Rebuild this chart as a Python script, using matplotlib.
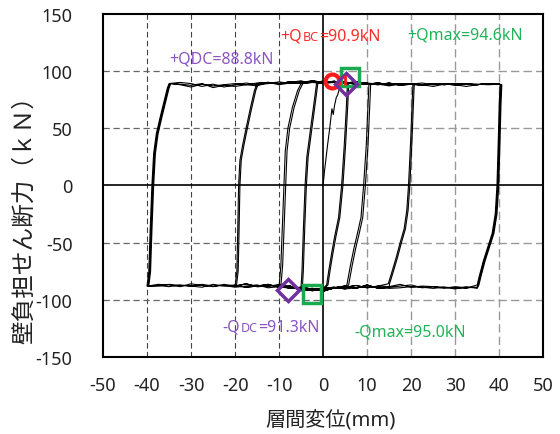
import matplotlib
matplotlib.use('Agg')
import matplotlib.pyplot as plt
from matplotlib.offsetbox import TextArea, HPacker, AnnotationBbox

plt.rcParams['font.family'] = ['Noto Sans', 'Noto Sans CJK JP', 'DejaVu Sans']
plt.rcParams['axes.unicode_minus'] = False

# plateau profiles (kN) read on a 2.5 mm grid
grid_x = [-40, -37.5, -35, -32.5, -30, -27.5, -25, -22.5, -20, -17.5, -15, -12.5,
          -10, -7.5, -5, -2.5, 0, 2.5, 5, 7.5, 10, 12.5, 15, 17.5, 20, 22.5, 25,
          27.5, 30, 32.5, 35, 37.5, 40]
top_a = [90, 90, 90.5, 88, 86, 88.5, 87, 88, 89, 88, 89.5, 90, 89, 90.5, 91, 90, 91,
         90.5, 90, 89.5, 88.5, 89.5, 88, 89, 88.5, 87.5, 89, 88, 89, 88.5, 88, 89, 89]
top_b = [89, 89, 89.5, 90, 89, 86.5, 88.5, 86, 88, 89.5, 88, 89, 90.5, 89, 90, 91.5, 90,
         91, 89.5, 90.5, 89, 88, 89.5, 87.5, 88.5, 89.5, 88, 89, 87.5, 89, 88.5, 88, 88.5]
top_c = [88, 88, 90, 88.5, 87.5, 89, 85.5, 87.5, 86.5, 88, 87, 90, 88, 89.5, 89, 90, 89.5,
         90, 90.5, 88, 89.5, 88.5, 87, 88.5, 89, 88, 86.5, 88.5, 88, 86.5, 88, 89, 88.5]
bot_a = [-88, -87.5, -88.5, -87, -88, -86.5, -88, -87.5, -89, -88, -87, -89.5, -88.5,
         -90, -89, -91, -90, -89, -90.5, -89.5, -88.5, -89, -90, -89.5, -88.5, -89, -90,
         -89, -89.5, -90, -90.5, -90, -90]
bot_b = [-87, -86.5, -87, -88.5, -86, -87.5, -88.5, -86.5, -88, -86, -88.5, -88, -87,
         -89, -90.5, -92, -91, -90, -89, -87.5, -89.5, -88, -88.5, -86.5, -89, -88,
         -88.5, -90, -88.5, -89.5, -89, -91, -90]
bot_c = [-88.5, -88, -86.5, -87.5, -88, -89, -86.5, -88, -87, -89, -88, -86.5, -89, -88,
         -92, -90, -92.5, -89.5, -88, -90, -87, -90, -89, -88, -87, -89.5, -88.5, -89,
         -90.5, -88.5, -90, -89.5, -91]
tops = [top_a, top_b, top_c]
bots = [bot_a, bot_b, bot_c]

# first loading
init_x = [0, 0.3, 0.6, 1.0, 1.5, 2.0, 2.3, 2.6, 3.0, 3.3, 3.8, 4.2, 5.0]
init_y = [0, 12, 22, 35, 50, 67, 62, 70, 77, 79, 86, 90, 91]

# unloading / reloading branches per amplitude (mm)
down5_x = [5.5, 5.3, 4.8, 4.2, 3.5, 2.6, 1.9, 1.3, 0.8]
down5_y = [88, 70, 35, 0, -28, -45, -60, -74, -87]
up5_x = [-5, -4.8, -4.5, -4.1, -3.7, -3.0, -2.3, -1.8, -1.5]
up5_y = [-88, -75, -40, 0, 25, 45, 65, 80, 89]
down10_x = [10.4, 10.2, 9.8, 9.2, 8.6, 7.8, 7.0, 6.2, 5.4]
down10_y = [88, 70, 35, 0, -28, -42, -55, -70, -87]
up10_x = [-10, -9.6, -9.2, -8.9, -8.6, -8.0, -7.0, -5.8, -5.0]
up10_y = [-88, -70, -30, 0, 30, 50, 68, 83, 89]
down20_x = [20.4, 20.2, 19.9, 19.4, 19.0, 18.4, 17.5, 16.6, 15.6, 14.8]
down20_y = [88, 70, 40, 0, -22, -38, -50, -63, -76, -86]
up20_x = [-20, -19.6, -19.4, -19.2, -18.9, -18.3, -17.5, -16.5, -15.6, -15.0]
up20_y = [-88, -75, -40, 0, 22, 35, 50, 68, 83, 89]
down40_x = [40.2, 40.0, 39.8, 39.5, 39.1, 38.4, 37.4, 36.4, 35.5, 35.0]
down40_y = [88, 70, 40, 0, -25, -42, -54, -66, -79, -87]
up40_x = [-40, -39.6, -39.3, -38.9, -38.5, -37.9, -37.0, -36.1, -35.4, -35.0]
up40_y = [-88, -75, -40, 0, 28, 45, 60, 74, 85, 89]

branches = {5: (down5_x, down5_y, up5_x, up5_y),
            10: (down10_x, down10_y, up10_x, up10_y),
            20: (down20_x, down20_y, up20_x, up20_y),
            40: (down40_x, down40_y, up40_x, up40_y)}

cyc_amp = [5, 5, 10, 10, 20, 20, 40, 40, 40]
cyc_top = [0, 1, 0, 2, 1, 0, 0, 1, 2]
cyc_bot = [0, 1, 2, 0, 1, 2, 0, 1, 2]
cyc_shift = [0, 0.3, 0, 0.4, 0, 0.3, 0, 0.2, 0.4]

# characteristic points
pk_x = [2.0, 6.0, 5.2, -8.0, -2.5]
pk_y = [90.9, 94.6, 88.8, -91.3, -95.0]
# label pieces: (main, small, rest)
pk_text = [('+Q', 'BC', '=90.9kN'), ('+Qmax=94.6kN', '', ''), ('+QDC=88.8kN', '', ''),
           ('-Q', 'DC', '=91.3kN'), ('-Qmax=95.0kN', '', '')]
pk_tx = [1.6, 32.3, -23, -11.9, 19.8]
pk_ty = [131, 131.6, 110.5, -123.7, -128]
pk_col = ['#ff2a2a', '#22b35a', '#8a55c0', '#8a55c0', '#22b35a']


def plateau(prof, x0, x1):
    pts = [(gx, gy) for gx, gy in zip(grid_x, prof) if min(x0, x1) < gx < max(x0, x1)]
    if x0 > x1:
        pts = pts[::-1]
    return pts


xs, ys = list(init_x), list(init_y)
for amp, ti, bi, s in zip(cyc_amp, cyc_top, cyc_bot, cyc_shift):
    dx, dy, ux, uy = branches[amp]
    dx = [v + s for v in dx]
    ux = [v + s for v in ux]
    for px, py in plateau(tops[ti], xs[-1], dx[0]):
        xs.append(px); ys.append(py)
    xs += dx; ys += dy
    for px, py in plateau(bots[bi], dx[-1], ux[0]):
        xs.append(px); ys.append(py)
    xs += ux; ys += uy
for px, py in plateau(tops[0], xs[-1], 40.2):
    xs.append(px); ys.append(py)

fig = plt.figure(figsize=(5.6, 4.35), dpi=100)
ax = fig.add_axes([0.184, 0.177, 0.786, 0.789])
ax.set_xlim(-50, 50)
ax.set_ylim(-150, 150)

# grid
for gx in [-40, -30, -20, -10]:
    ax.axvline(gx, color='#444444', lw=0.8, dashes=(5, 3), zorder=1)
for gx in [10, 20, 30, 40]:
    ax.axvline(gx, color='#999999', lw=1.0, dashes=(6, 3), zorder=1)
for gy in [-100, -50, 50, 100]:
    ax.plot([-50, 0], [gy, gy], color='#666666', lw=0.9, dashes=(5, 3), zorder=1)
    ax.plot([0, 50], [gy, gy], color='#999999', lw=1.0, dashes=(6, 3), zorder=1)
ax.axhline(0, color='black', lw=1.2, zorder=2)
ax.axvline(0, color='black', lw=1.2, zorder=2)

ax.plot(xs, ys, color='black', lw=0.8, zorder=3)

# markers
ax.plot(pk_x[1], pk_y[1], 's', mfc='none', mec='#1aaa50', ms=13, mew=2.5, zorder=5)
ax.plot(pk_x[0], pk_y[0], 'o', mfc='none', mec='#ff1a1a', ms=10, mew=3, zorder=6)
ax.plot(pk_x[2], pk_y[2], 'D', mfc='none', mec='#7030a0', ms=11, mew=2.5, zorder=7)
ax.plot(4.9, 92.4, '|', color='#ff1a1a', ms=7, mew=2, zorder=8)
ax.plot(pk_x[4], pk_y[4], 's', mfc='none', mec='#1aaa50', ms=13, mew=2.5, zorder=5)
ax.plot(pk_x[3], pk_y[3], 'D', mfc='none', mec='#7030a0', ms=11, mew=2.5, zorder=7)

for parts, tx, ty, c in zip(pk_text, pk_tx, pk_ty, pk_col):
    boxes = []
    for txt, sz in zip(parts, [11.5, 9, 11.5]):
        if txt:
            boxes.append(TextArea(txt, textprops=dict(color=c, size=sz)))
    pack = HPacker(children=boxes, align='baseline', pad=0, sep=0.4)
    ab = AnnotationBbox(pack, (tx, ty), xycoords='data', frameon=False,
                        box_alignment=(0.5, 0.5), pad=0, zorder=9)
    ax.add_artist(ab)

ax.set_xticks(range(-50, 51, 10))
ax.set_yticks(range(-150, 151, 50))
ax.tick_params(length=0, labelsize=13, colors='#222222')
ax.tick_params(axis='x', pad=14)
ax.tick_params(axis='y', pad=22)
for sp in ax.spines.values():
    sp.set_linewidth(1.5)
    sp.set_color('black')

ax.set_xlabel('層間変位(mm)', fontsize=14.5, color='#222222')
ax.xaxis.set_label_coords(0.516, -0.152)
ax.set_ylabel('壁負担せん断力（ｋＮ）', fontsize=17, color='#222222')
ax.yaxis.set_label_coords(-0.15, 0.42)

fig.savefig('out.png', dpi=100)
